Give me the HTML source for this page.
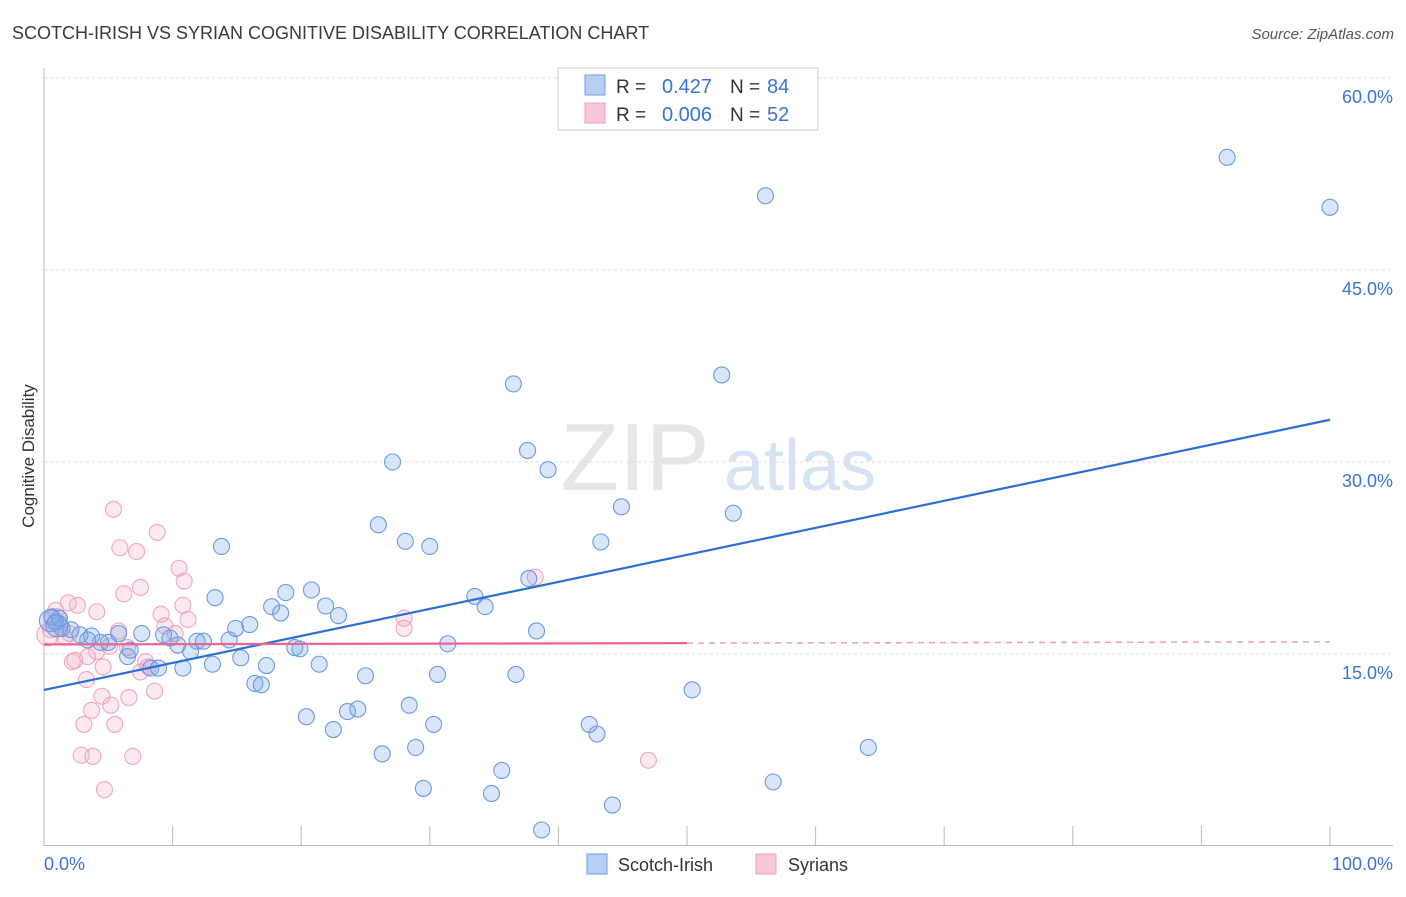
<!DOCTYPE html>
<html><head><meta charset="utf-8"><style>
body{margin:0;background:#fff;font-family:"Liberation Sans",sans-serif;}
svg text{font-family:"Liberation Sans",sans-serif;}
</style></head><body>
<svg id="chart" width="1406" height="892">
<text x="12" y="39" font-size="18" fill="#3a3a3a">SCOTCH-IRISH VS SYRIAN COGNITIVE DISABILITY CORRELATION CHART</text>
<text x="1394" y="39" font-size="15" fill="#555" text-anchor="end" font-style="italic">Source: ZipAtlas.com</text>
<text x="34" y="456" font-size="17" fill="#333" text-anchor="middle" transform="rotate(-90 34 456)">Cognitive Disability</text>
<text x="635" y="490" font-size="96" fill="#e6e6e6" font-family="Liberation Serif" text-anchor="middle">ZIP</text>
<text x="800" y="490" font-size="72" fill="#d6e3f3" text-anchor="middle">atlas</text>
<g id="grid"></g><g id="pts"></g><g id="lines"></g>
<g>
<rect x="558" y="68" width="260" height="62" fill="#fff" stroke="#ccc"/>
<rect x="585" y="75" width="20" height="20" fill="#b7cff5" stroke="#6e9de0"/>
<rect x="585" y="103" width="20" height="20" fill="#f9c7d6" stroke="#eea2bb"/>
<text x="616" y="93" font-size="19" fill="#333">R =</text>
<text x="712" y="93" font-size="20" fill="#3a74d4" text-anchor="end">0.427</text>
<text x="730" y="93" font-size="19" fill="#333">N =</text>
<text x="767" y="93" font-size="20" fill="#3a74d4">84</text>
<text x="616" y="121" font-size="19" fill="#333">R =</text>
<text x="712" y="121" font-size="20" fill="#3a74d4" text-anchor="end">0.006</text>
<text x="730" y="121" font-size="19" fill="#333">N =</text>
<text x="767" y="121" font-size="20" fill="#3a74d4">52</text>
</g>
<g>
<rect x="587" y="854" width="20" height="20" fill="#b7cff5" stroke="#6e9de0"/>
<text x="618" y="871" font-size="18" fill="#333">Scotch-Irish</text>
<rect x="756" y="854" width="20" height="20" fill="#f9c7d6" stroke="#eea2bb"/>
<text x="788" y="871" font-size="18" fill="#333">Syrians</text>
</g>
</svg>
<script>
const yTicks=[15,30,45,60];
const yTickLabels=["15.0%","30.0%","45.0%","60.0%"];
const xTickLabels=["0.0%","100.0%"];
const blueX=[92.0,100,56.1,52.7,36.5,37.6,39.2,27.1,44.9,53.6,26.0,28.1,30.0,43.3,13.8,37.7,33.5,34.3,20.8,18.8,13.3,17.7,18.4,21.9,22.9,16.0,14.9,38.3,31.4,19.5,19.9,14.4,12.4,11.9,10.4,11.4,9.8,9.3,7.6,5.8,5.0,4.4,3.7,2.8,2.1,1.4,0.9,0.6,1.2,3.4,6.7,6.5,8.3,8.9,10.8,13.1,15.3,17.3,21.4,25.0,30.6,36.7,16.4,16.9,50.4,20.4,23.6,24.4,28.4,30.3,42.4,43.0,22.5,64.1,28.9,26.3,35.6,56.7,29.5,34.8,44.2,38.7,0.5,1.0];
const blueY=[53.8,49.9,50.8,36.8,36.1,30.9,29.4,30.0,26.5,26.0,25.1,23.8,23.4,23.75,23.4,20.9,19.5,18.7,20.0,19.8,19.4,18.7,18.2,18.75,18.0,17.3,17.0,16.8,15.8,15.5,15.4,16.1,16.0,16.0,15.7,15.2,16.25,16.5,16.6,16.6,15.9,15.9,16.4,16.5,16.9,17.0,17.5,17.9,17.8,16.1,15.3,14.8,13.9,13.9,13.9,14.2,14.7,14.1,14.2,13.3,13.4,13.4,12.7,12.6,12.2,10.1,10.5,10.7,11.0,9.5,9.5,8.75,9.1,7.7,7.7,7.2,5.9,5.0,4.5,4.1,3.2,1.25,17.6,17.2];
const pinkX=[5.4,8.8,5.9,7.2,10.5,10.9,7.5,6.2,38.2,1.9,2.6,4.1,10.8,9.1,11.2,28.0,28.0,9.4,10.2,5.8,0.9,1.2,2.0,0.5,1.6,5.1,6.5,4.1,3.4,2.4,2.2,7.9,4.6,7.5,8.1,3.3,8.6,4.5,6.6,5.2,3.7,3.1,5.5,2.9,3.8,6.9,47.0,4.7,0.9,0.3];
const pinkY=[26.3,24.5,23.3,23.0,21.7,20.7,20.2,19.7,21.0,19.0,18.8,18.3,18.8,18.1,17.7,17.8,17.0,17.2,16.6,16.8,18.4,17.3,16.6,16.9,16.3,15.6,15.5,15.2,14.8,14.5,14.4,14.4,14.0,13.6,14.0,13.0,12.1,11.7,11.6,11.0,10.6,9.5,9.5,7.1,7.0,7.0,6.7,4.4,17.7,16.5];
const blueTrend=[12.19,33.3];
const pinkTrend=[15.75,15.95];
const NS="http://www.w3.org/2000/svg";
const X=v=>44+v*12.86, Y=v=>846-v*12.8;
function mk(t,a,p){const e=document.createElementNS(NS,t);for(const k in a)e.setAttribute(k,a[k]);p.appendChild(e);return e;}
const grid=document.getElementById('grid');
yTicks.forEach((t,i)=>{
 const l=mk('line',{x1:44,x2:1393,y1:Y(t),y2:Y(t),stroke:'#ddd','stroke-dasharray':'3,3'},grid);
 
 
 const tx=mk('text',{x:1393,y:Y(t)+25,'font-size':18,fill:'#3a74d4','text-anchor':'end'},grid);tx.textContent=yTickLabels[i];
 
 
});
mk('line',{x1:44,x2:44,y1:68,y2:846,stroke:'#bbb'},grid);
mk('line',{x1:44,x2:1393,y1:845.5,y2:845.5,stroke:'#bbb'},grid);
for(let i=1;i<=10;i++){mk('line',{x1:X(i*10),x2:X(i*10),y1:826,y2:846,stroke:'#bbb'},grid);}
[[0,'start'],[100,'end']].forEach((d,i)=>{const t=mk('text',{x:i?1393:44,y:870,'font-size':18,fill:'#3a74d4','text-anchor':d[1]},grid);t.textContent=xTickLabels[i];
 
 });
const pts=document.getElementById('pts');
pinkX.forEach((x,i)=>{const c=mk('circle',{cx:X(x),cy:Y(pinkY[i]),r:i>=48?11:8,fill:'rgba(246,175,200,0.28)',stroke:'#efa5be','stroke-width':1.1},pts);
 
 });
blueX.forEach((x,i)=>{const c=mk('circle',{cx:X(x),cy:Y(blueY[i]),r:i>=82?11:8,fill:'rgba(120,165,232,0.28)',stroke:'#6a9ade','stroke-width':1.1},pts);
 
 });
const lines=document.getElementById('lines');
const bl=mk('line',{x1:X(0),y1:Y(blueTrend[0]),x2:X(100),y2:Y(blueTrend[1]),stroke:'#2a6fd6','stroke-width':2.2},lines);


const pm=(pinkTrend[0]+pinkTrend[1])/2;
const pl=mk('line',{x1:X(0),y1:Y(pinkTrend[0]),x2:X(50),y2:Y(pm),stroke:'#e8668f','stroke-width':2.2},lines);


const pd=mk('line',{x1:X(50),y1:Y(pm),x2:X(100),y2:Y(pinkTrend[1]),stroke:'#eca0b8','stroke-width':1.5,'stroke-dasharray':'6,5'},lines);


</script>
</body></html>
